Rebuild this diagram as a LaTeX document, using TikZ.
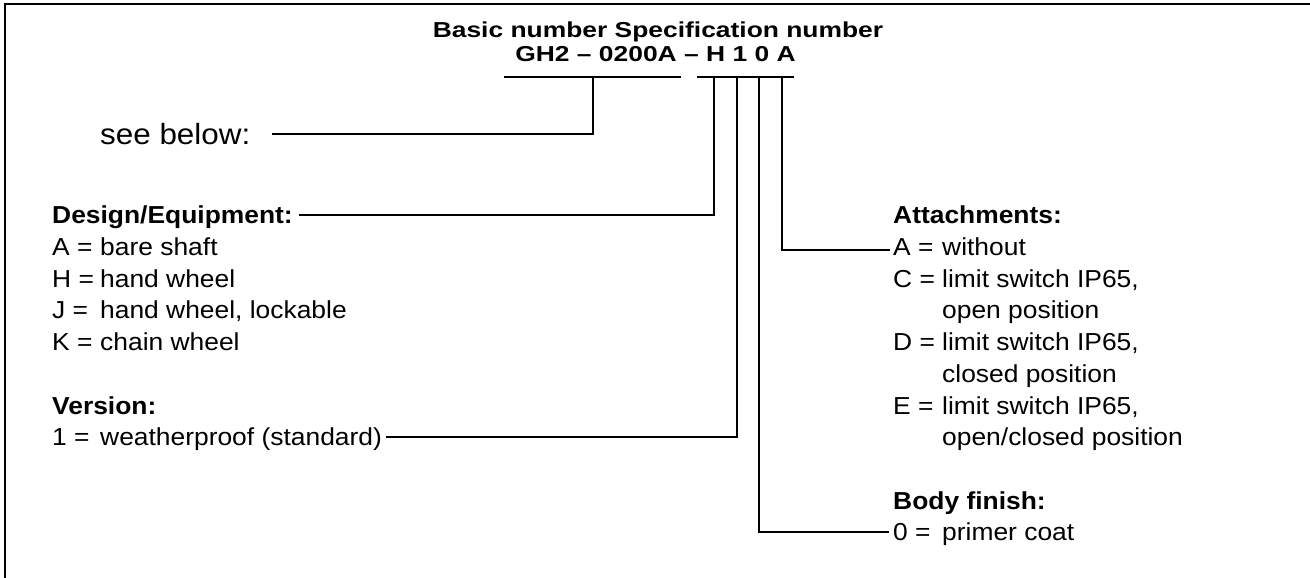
\documentclass[tikz,border=0pt]{standalone}
\usepackage{graphicx}
\usepackage{fontspec}
\setmainfont{Liberation Sans}
\newcommand\hq[1]{\scalebox{1}[0.82]{#1}}
\newcommand\bq[1]{\scalebox{1}[0.93]{#1}}
\begin{document}
\begin{tikzpicture}[x=1pt,y=-1pt,
  txt/.style={inner sep=0pt, anchor=west, font=\fontsize{26.4}{31.7}\selectfont, text height=17.7pt, text depth=0pt},
  hd/.style={txt, font=\fontsize{26.4}{31.7}\selectfont\bfseries},
  hdt/.style={hd, text height=15.6pt},
  big/.style={txt, font=\fontsize{31.4}{36}\selectfont, text height=21pt},
  conn/.style={line width=2pt},
  frame/.style={line width=2.6pt}]
\useasboundingbox (0,0) rectangle (1310,578);
% frame (top and left only)
\draw[frame] (5,578) -- (5,4) -- (1310,4);

% header
\node[hdt, anchor=center] (title) at (658,30) {\hq{Basic number Specification number}};
\node[hdt, anchor=center] (code) at (655.5,54) {\hq{GH2 -- 0200A -- H 1 0 A}};

% underline bars
\coordinate (ua1) at (504,77); \coordinate (ua2) at (681,77);
\coordinate (ub1) at (697,77); \coordinate (ub2) at (794,77);
\draw[conn] (ua1) -- (ua2);
\draw[conn] (ub1) -- (ub2);
\coordinate (tB) at (593,77);
\coordinate (tH) at (714,77);
\coordinate (t1) at (737,77);
\coordinate (t0) at (759,77);
\coordinate (tA) at (782,77);

% see below
\node[big] (see) at (100,134) {\bq{see below:}};
\coordinate (seeEnd) at (272,134);
\draw[conn] (tB) |- (seeEnd);

% left column
\node[hd] (design) at (52,215) {\bq{Design/Equipment:}};
\node[txt] (dA) at (52,246.7) {\bq{\makebox[48pt][l]{A =}bare shaft}};
\node[txt] (dH) at (52,278.4) {\bq{\makebox[48pt][l]{H =}hand wheel}};
\node[txt] (dJ) at (52,310.1) {\bq{\makebox[48pt][l]{J =}hand wheel, lockable}};
\node[txt] (dK) at (52,341.8) {\bq{\makebox[48pt][l]{K =}chain wheel}};
\node[hd] (version) at (52,405.2) {\bq{Version:}};
\node[txt] (v1) at (52,437) {\bq{\makebox[48pt][l]{1 =}weatherproof (standard)}};
\coordinate (designEnd) at ([xshift=6pt]design.east);
\coordinate (v1End) at ([xshift=4pt]v1.east);
\draw[conn] (tH) |- (designEnd);
\draw[conn] (t1) |- (v1End);

% right column
\node[hd] (attach) at (893,215) {\bq{Attachments:}};
\node[txt] (aA) at (893,246.7) {\bq{\makebox[49pt][l]{A =}without}};
\node[txt] (aC) at (893,278.4) {\bq{\makebox[49pt][l]{C =}limit switch IP65,}};
\node[txt] (aC2) at (942,310.1) {\bq{open position}};
\node[txt] (aD) at (893,341.8) {\bq{\makebox[49pt][l]{D =}limit switch IP65,}};
\node[txt] (aD2) at (942,373.5) {\bq{closed position}};
\node[txt] (aE) at (893,405.2) {\bq{\makebox[49pt][l]{E =}limit switch IP65,}};
\node[txt] (aE2) at (942,436.9) {\bq{open/closed position}};
\node[hd] (body) at (893,500.3) {\bq{Body finish:}};
\node[txt] (b0) at (893,532) {\bq{\makebox[49pt][l]{0 =}primer coat}};
\coordinate (aAEnd) at ([xshift=-3pt,yshift=-3pt]aA.west);
\coordinate (b0End) at ([xshift=-4pt]b0.west);
\draw[conn] (tA) |- (aAEnd);
\draw[conn] (t0) |- (b0End);
\end{tikzpicture}
\end{document}
